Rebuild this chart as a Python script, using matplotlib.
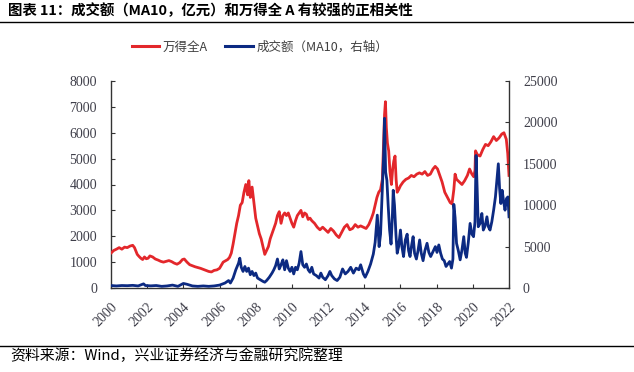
import matplotlib
matplotlib.use("Agg")
import matplotlib.pyplot as plt
from matplotlib.lines import Line2D

# ---- data ----
wind_years = [
    2000.00, 2000.15, 2000.30, 2000.45, 2000.60, 2000.75, 2000.90, 2001.05, 2001.20, 2001.30,
    2001.45, 2001.55, 2001.65, 2001.75, 2001.85, 2001.95, 2002.05, 2002.15, 2002.30, 2002.45,
    2002.60, 2002.75, 2002.90, 2003.05, 2003.20, 2003.35, 2003.50, 2003.65, 2003.80, 2003.95,
    2004.05, 2004.20, 2004.35, 2004.50, 2004.65, 2004.80, 2004.95, 2005.10, 2005.25, 2005.40,
    2005.55, 2005.70, 2005.85, 2006.00, 2006.10, 2006.20, 2006.30, 2006.45, 2006.55, 2006.65,
    2006.75, 2006.85, 2006.95, 2007.05, 2007.15, 2007.25, 2007.35, 2007.45, 2007.55, 2007.62,
    2007.70, 2007.80, 2007.90, 2008.00, 2008.10, 2008.20, 2008.30, 2008.40, 2008.50, 2008.60,
    2008.70, 2008.80, 2008.90, 2009.00, 2009.10, 2009.20, 2009.30, 2009.40, 2009.50, 2009.60,
    2009.70, 2009.80, 2009.90, 2010.00, 2010.10, 2010.20, 2010.30, 2010.40, 2010.50, 2010.60,
    2010.70, 2010.80, 2010.90, 2011.00, 2011.10, 2011.25, 2011.40, 2011.55, 2011.70, 2011.85,
    2012.00, 2012.15, 2012.30, 2012.45, 2012.60, 2012.75, 2012.90, 2013.05, 2013.20, 2013.35,
    2013.50, 2013.65, 2013.80, 2013.95, 2014.10, 2014.25, 2014.40, 2014.50, 2014.60, 2014.70,
    2014.80, 2014.90, 2015.00, 2015.06, 2015.12, 2015.17, 2015.22, 2015.28, 2015.35, 2015.42,
    2015.50, 2015.57, 2015.63, 2015.70, 2015.76, 2015.82, 2015.90, 2016.00, 2016.15, 2016.30,
    2016.45, 2016.60, 2016.75, 2016.90, 2017.05, 2017.20, 2017.35, 2017.50, 2017.65, 2017.80,
    2017.92, 2018.05, 2018.15, 2018.30, 2018.45, 2018.60, 2018.75, 2018.85, 2018.95, 2019.02,
    2019.10, 2019.25, 2019.40, 2019.55, 2019.70, 2019.82, 2019.95, 2020.05, 2020.12, 2020.15,
    2020.25, 2020.40, 2020.55, 2020.70, 2020.85, 2021.00, 2021.15, 2021.30, 2021.45, 2021.60,
    2021.72, 2021.85, 2021.93, 2022.00,
]
wind_values = [
    1350, 1450, 1500, 1560, 1500, 1580, 1560, 1620, 1650, 1560,
    1300, 1220, 1150, 1100, 1200, 1130, 1150, 1240, 1200, 1120,
    1080, 1030, 1000, 1030, 1060, 1020, 960, 920, 980, 1100,
    1120, 1000, 900, 860, 820, 790, 760, 720, 680, 640,
    620, 680, 700, 760, 880, 1000, 1040, 1100, 1180, 1350,
    1700, 2100, 2500, 2800, 3200, 3300, 3700, 4000, 3600, 4150,
    3500, 3900, 3300, 2700, 2400, 2100, 1900, 1600, 1300, 1450,
    1600, 1900, 2100, 2300, 2500, 2800, 2950, 2500, 2800, 2900,
    2800, 2900, 2700, 2500, 2350, 2600, 2800, 2900, 3000, 2750,
    2900, 2850, 2650, 2700, 2600, 2500, 2350, 2250, 2350, 2250,
    2150, 2300, 2200, 2050, 1950, 2150, 2350, 2450, 2250, 2300,
    2450, 2350, 2400, 2350, 2300, 2450, 2700, 2900, 3200, 3500,
    3700, 3800, 4200, 5400, 6700, 7200, 6200, 5600, 5300, 4500,
    4000, 4600, 4900, 5100, 4200, 3700, 3800, 3950, 4100, 4200,
    4250, 4350, 4300, 4400, 4450, 4400, 4500, 4350, 4400, 4600,
    4700, 4600, 4400, 4100, 3700, 3500, 3300, 3250, 3800, 4400,
    4200, 4100, 4000, 4150, 4350, 4600, 4400, 4300, 4550, 5300,
    5150, 5100, 5350, 5550, 5500, 5650, 5850, 5700, 5800, 5950,
    6000, 5750, 5200, 4350,
]

turnover_years = [
    2000.0, 2000.3, 2000.6, 2000.9, 2001.2, 2001.5, 2001.8, 2001.9, 2002.2, 2002.5,
    2002.8, 2003.1, 2003.4, 2003.7, 2004.0, 2004.2, 2004.5, 2004.8, 2005.1, 2005.4,
    2005.7, 2006.0, 2006.3, 2006.5, 2006.6, 2006.75, 2006.9, 2007.05, 2007.12, 2007.2,
    2007.3, 2007.4, 2007.5, 2007.6, 2007.7, 2007.8, 2007.9, 2008.0, 2008.1, 2008.25,
    2008.4, 2008.5, 2008.6, 2008.75, 2008.9, 2009.0, 2009.1, 2009.2, 2009.3, 2009.4,
    2009.5, 2009.6, 2009.7, 2009.8, 2009.9, 2010.0, 2010.1, 2010.2, 2010.3, 2010.4,
    2010.5, 2010.6, 2010.7, 2010.8, 2010.9, 2011.0, 2011.1, 2011.2, 2011.35, 2011.5,
    2011.6, 2011.7, 2011.85, 2012.0, 2012.1, 2012.2, 2012.35, 2012.5, 2012.65, 2012.8,
    2012.95, 2013.1, 2013.25, 2013.4, 2013.55, 2013.7, 2013.8, 2013.95, 2014.05, 2014.2,
    2014.35, 2014.5, 2014.6, 2014.72, 2014.82, 2014.9, 2015.0, 2015.07, 2015.12, 2015.18,
    2015.25, 2015.32, 2015.4, 2015.48, 2015.55, 2015.6, 2015.67, 2015.75, 2015.82, 2015.9,
    2016.0, 2016.08, 2016.17, 2016.27, 2016.37, 2016.45, 2016.53, 2016.62, 2016.7, 2016.78,
    2016.88, 2016.97, 2017.06, 2017.15, 2017.25, 2017.35, 2017.47, 2017.57, 2017.67, 2017.8,
    2017.93, 2018.02, 2018.12, 2018.22, 2018.32, 2018.42, 2018.52, 2018.62, 2018.72, 2018.82,
    2018.9, 2018.95, 2019.02, 2019.1, 2019.2, 2019.3, 2019.4, 2019.5, 2019.58, 2019.65,
    2019.75, 2019.85, 2019.95, 2020.04, 2020.12, 2020.18, 2020.24, 2020.3, 2020.4, 2020.5,
    2020.58, 2020.68, 2020.78, 2020.86, 2020.95, 2021.05, 2021.15, 2021.25, 2021.35, 2021.41,
    2021.48, 2021.55, 2021.62, 2021.7, 2021.78, 2021.86, 2021.94, 2022.0,
]
turnover_values = [
    300, 250, 300, 280, 320, 250, 500, 300, 260, 300,
    200, 250, 350, 200, 550, 450, 250, 200, 250, 200,
    250, 350, 600, 900, 600, 1200, 2200, 3000, 3600, 2500,
    2000, 2600, 2000, 2400, 1600, 2000, 1500, 1800, 1200, 1000,
    800, 700, 900, 1300, 1800, 2200, 2700, 3500, 2300, 2800,
    3400, 2200, 3300, 2400, 2000, 2500, 1700, 2500, 2200, 3000,
    4400, 2800, 2500, 2900, 2200, 1900, 2500, 1700, 1500, 1200,
    1800, 1300, 1000, 1500, 2000, 1500, 1100, 900, 1300, 2300,
    1700, 2000, 2500, 1800, 2400, 2200, 2800, 1700, 1300, 2000,
    2900, 4100, 5500, 8800, 5000, 6500, 12000, 16000, 20500, 14000,
    13000, 10000, 7000, 5300, 8500, 11800, 10000, 6500, 4200, 5000,
    7000, 5000, 3800, 5800, 6500, 4500, 3800, 5200, 6200, 4200,
    3500, 4500, 5800, 4200, 3300, 4500, 5400, 4300, 3800, 4400,
    5000, 4300, 5200, 4200, 3500, 3300, 2600, 2900, 3200, 2400,
    3500, 10100, 8500, 5400, 4500, 3400, 4600, 6200, 4200, 3700,
    5500, 7800, 6500, 6200, 8000, 16000, 12000, 7400, 7800, 9000,
    7000, 7500, 8600, 7400, 7000, 8000, 9400, 11000, 13500, 15000,
    12000, 10200, 11800, 10500, 9400, 10800, 11000, 8600,
]

x_ticks = list(range(2000, 2023, 2))
left_ticks = list(range(0, 8001, 1000))
right_ticks = list(range(0, 25001, 5000))

title_text = "图表 11：成交额（MA10，亿元）和万得全 A 有较强的正相关性"
legend_labels = ["万得全A", "成交额（MA10，右轴）"]
source_text = "资料来源：Wind，兴业证券经济与金融研究院整理"

# ---- styling ----
RED = "#E3272B"
BLUE = "#0C2A82"
TICK_COLOR = "#3F3F4A"
CJK = ["Noto Sans CJK SC", "DejaVu Sans"]
SERIF = ["Liberation Serif", "DejaVu Serif"]

W, H = 634, 372
fig = plt.figure(figsize=(W / 100, H / 100), dpi=100)
ax = fig.add_axes([111 / W, 1 - 288 / H, (509 - 111) / W, (288 - 81) / H])
ax2 = ax.twinx()

ax.plot(wind_years, wind_values, color=RED, lw=2.0, zorder=3)
ax2.plot(turnover_years, turnover_values, color=BLUE, lw=2.0, zorder=3)

ax.set_xlim(2000, 2022)
ax.set_ylim(0, 8000)
ax2.set_ylim(0, 25000)
ax.set_xticks(x_ticks)
ax.set_xticklabels([str(t) for t in x_ticks], rotation=45, ha="right", va="top",
                   rotation_mode="anchor", family=SERIF, fontsize=10, color=TICK_COLOR)
ax.set_yticks(left_ticks)
ax.set_yticklabels([str(t) for t in left_ticks], family=SERIF, fontsize=10, color=TICK_COLOR)
ax2.set_yticks(right_ticks)
ax2.set_yticklabels([str(t) for t in right_ticks], family=SERIF, fontsize=10, color=TICK_COLOR)

for a in (ax, ax2):
    a.spines["top"].set_visible(False)
    for s in ("left", "right", "bottom"):
        a.spines[s].set_color("#333333")
        a.spines[s].set_linewidth(1.0)
ax.spines["right"].set_visible(False)
ax2.spines["left"].set_visible(False)
ax2.spines["bottom"].set_visible(False)
ax.tick_params(axis="y", direction="in", length=3, pad=10, color="#333333")
ax.tick_params(axis="x", direction="in", length=3, pad=9, color="#333333")
ax2.tick_params(axis="y", direction="in", length=3, pad=10, color="#333333")

# legend
handles = [Line2D([], [], color=RED, lw=2.2), Line2D([], [], color=BLUE, lw=2.2)]
fig.legend(handles, legend_labels, loc="center", bbox_to_anchor=(260 / W, 1 - 47 / H),
           ncol=2, frameon=False, handlelength=2.2, handletextpad=0.3, columnspacing=1.4,
           prop={"family": CJK, "size": 9}, labelcolor="#404040")

# title & rules
fig.text(8 / W, 1 - 11 / H, title_text, family=CJK, fontsize=10.4, fontweight="bold",
         ha="left", va="center", color="black")
fig.add_artist(Line2D([0, 1], [1 - 21.5 / H, 1 - 21.5 / H], transform=fig.transFigure,
                      color="black", lw=1.0))
fig.add_artist(Line2D([0, 1], [1 - 346 / H, 1 - 346 / H], transform=fig.transFigure,
                      color="black", lw=1.0))
fig.text(10 / W, 1 - 356 / H, source_text, family=CJK, fontsize=10.7,
         ha="left", va="center", color="black")

fig.savefig("out.png", dpi=100)
